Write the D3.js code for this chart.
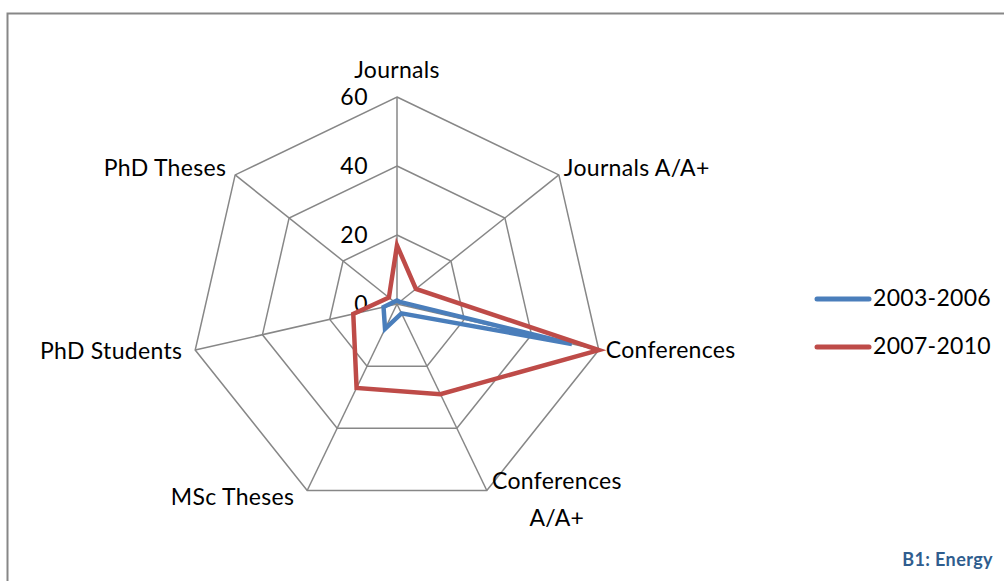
<!DOCTYPE html>
<html>
<head>
<meta charset="utf-8">
<script src="https://cdn.jsdelivr.net/npm/d3@7"></script>
<style>
  html, body { margin: 0; padding: 0; background: #fff; }
  svg { display: block; font-family: Lato, "Open Sans", sans-serif; }
</style>
</head>
<body>
<svg id="chart" width="1004" height="581"></svg>
<script>
// Publication and supervision counts per category, two periods
const categories = ["Journals", "Journals A/A+", "Conferences", "Conferences A/A+", "MSc Theses", "PhD Students", "PhD Theses"];
const seriesNames = ["2003-2006", "2007-2010"];
const values2003_2006 = [1, 1, 52, 3, 8, 4, 1];
const values2007_2010 = [17, 7, 60, 29, 27, 13, 3];
const radialTicks = [0, 20, 40, 60];
const footnote = "B1: Energy";

const colors = ["#4a7ebb", "#be4b48"];
const series = [values2003_2006, values2007_2010];

const svg = d3.select("#chart");
const cx = 397, cy = 304;
const fontSize = 23;

// Outer frame
svg.append("rect")
  .attr("x", 7.5).attr("y", 13.5)
  .attr("width", 1010).attr("height", 600)
  .attr("fill", "none").attr("stroke", "#878787").attr("stroke-width", 2);

const r = d3.scaleLinear().domain([0, 60]).range([0, 207]);
const angle = d3.scalePoint().domain(d3.range(categories.length)).range([0, 2 * Math.PI * (categories.length - 1) / categories.length]);

const pt = (i, v) => [cx + r(v) * Math.sin(angle(i)), cy - r(v) * Math.cos(angle(i))];

const g = svg.append("g");

// Heptagonal grid rings
radialTicks.filter(t => t > 0).forEach(t => {
  g.append("path")
    .attr("d", d3.line()(d3.range(categories.length).map(i => pt(i, t))) + "Z")
    .attr("fill", "none").attr("stroke", "#878787").attr("stroke-width", 1.5);
});

// Spokes
categories.forEach((c, i) => {
  const [x, y] = pt(i, 60);
  g.append("line")
    .attr("x1", cx).attr("y1", cy).attr("x2", x).attr("y2", y)
    .attr("stroke", "#878787").attr("stroke-width", 1.5);
});

// Radial tick labels along the top spoke
radialTicks.forEach(t => {
  g.append("text")
    .attr("x", cx - 29).attr("y", cy - r(t) + 2)
    .attr("text-anchor", "end")
    .attr("dominant-baseline", "middle")
    .attr("font-size", fontSize).attr("letter-spacing", 0.5).attr("fill", "#000")
    .text(t);
});

// Series polygons
series.forEach((vals, s) => {
  g.append("path")
    .attr("d", d3.line()(vals.map((v, i) => pt(i, v))) + "Z")
    .attr("fill", "none").attr("stroke", colors[s])
    .attr("stroke-width", 4.5).attr("stroke-linejoin", "miter");
});

// Category labels
const labelPos = [
  { dx: 0, dy: -25, anchor: "middle" },
  { dx: 5, dy: -5, anchor: "start" },
  { dx: 7, dy: 2, anchor: "start" },
  { dx: 70, dy: -8, anchor: "middle" },
  { dx: -13, dy: 8, anchor: "end" },
  { dx: -13, dy: 3, anchor: "end" },
  { dx: -9, dy: -5, anchor: "end" }
];
categories.forEach((c, i) => {
  const [x, y] = pt(i, 60);
  const p = labelPos[i];
  const words = i === 3 ? ["Conferences", "A/A+"] : [c];
  const t = g.append("text")
    .attr("x", x + p.dx).attr("y", y + p.dy)
    .attr("text-anchor", p.anchor)
    .attr("dominant-baseline", "middle")
    .attr("font-size", fontSize).attr("letter-spacing", 0.3).attr("fill", "#000");
  words.forEach((w, k) => {
    t.append("tspan").attr("x", x + p.dx).attr("dy", k === 0 ? 0 : 37).text(w);
  });
});

// Legend
const legend = svg.append("g");
seriesNames.forEach((n, s) => {
  const y = 299 + s * 48;
  legend.append("line")
    .attr("x1", 817).attr("x2", 869).attr("y1", y).attr("y2", y)
    .attr("stroke", colors[s]).attr("stroke-width", 5).attr("stroke-linecap", "round");
  legend.append("text")
    .attr("x", 873).attr("y", y + 1)
    .attr("dominant-baseline", "middle")
    .attr("font-size", fontSize).attr("letter-spacing", 0.3).attr("fill", "#000")
    .text(n);
});

// Footnote
svg.append("text")
  .attr("x", 993).attr("y", 561)
  .attr("text-anchor", "end").attr("dominant-baseline", "middle")
  .attr("font-size", 18).attr("font-weight", "bold").attr("letter-spacing", 0.4).attr("fill", "#2f5d8e")
  .text(footnote);
</script>
</body>
</html>
